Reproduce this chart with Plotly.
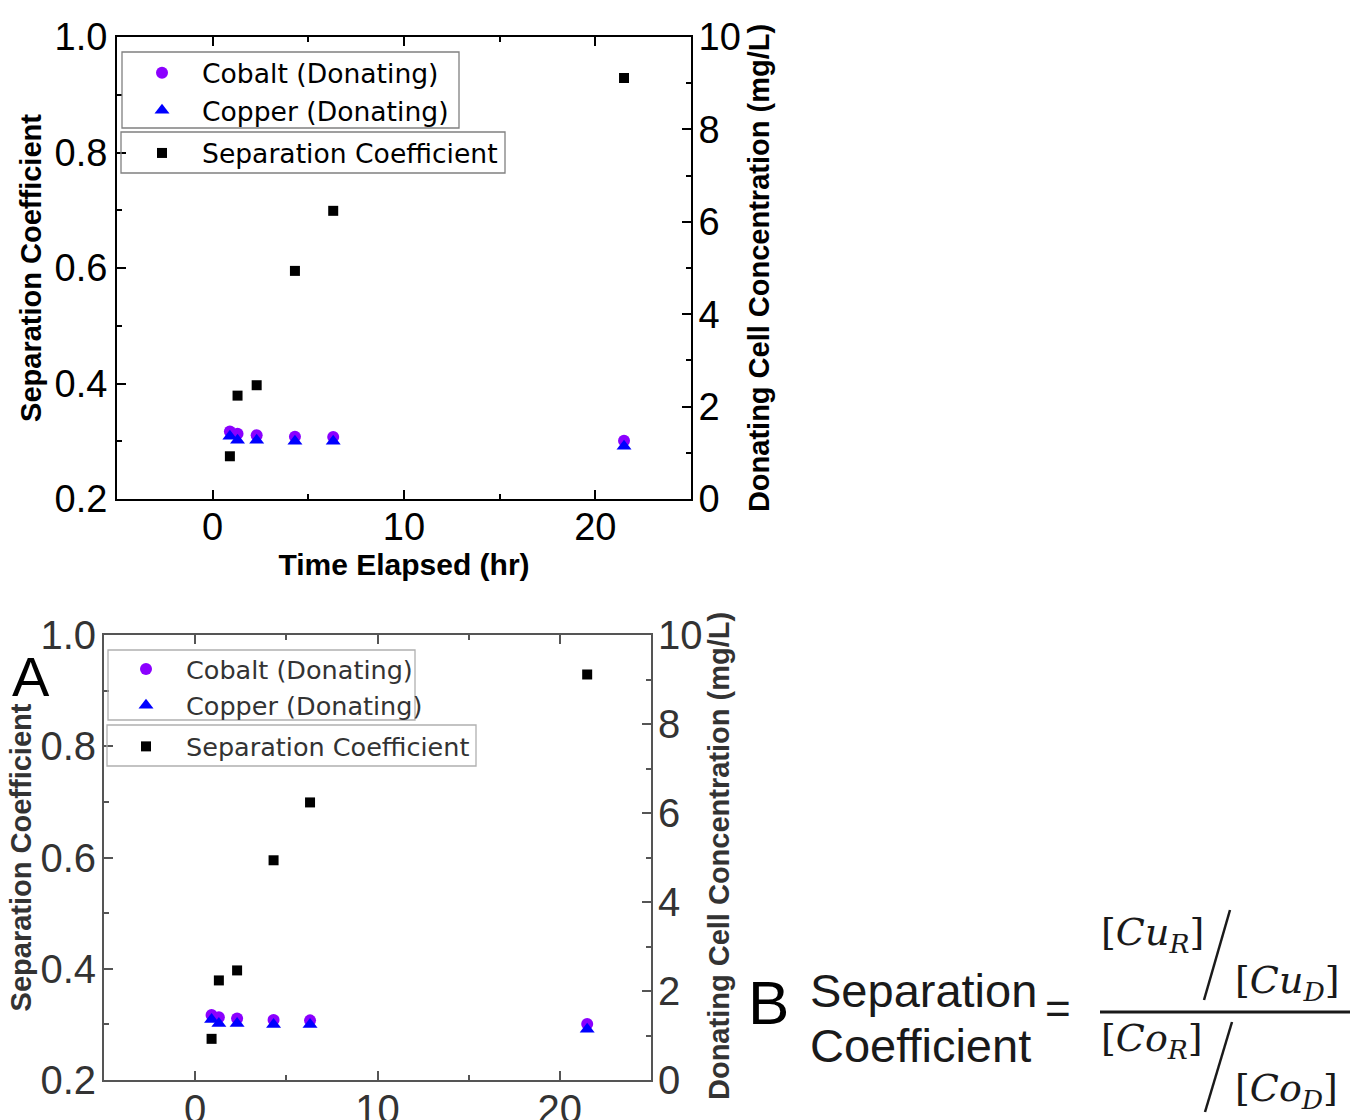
import plotly.graph_objects as go

# ---------------- data ----------------
time_hr = [0.9, 1.3, 2.3, 4.3, 6.3, 21.5]
sep_coef = [0.274, 0.379, 0.397, 0.595, 0.699, 0.929]
cobalt_mgL = [1.46, 1.41, 1.38, 1.35, 1.34, 1.26]
copper_mgL = [1.36, 1.27, 1.27, 1.25, 1.25, 1.14]

x_ticks = [0, 10, 20]
left_ticks = [0.2, 0.4, 0.6, 0.8, 1.0]
right_ticks = [0, 2, 4, 6, 8, 10]

W, H = 1350, 1120
FONT = "Liberation Sans, Arial, sans-serif"
LEGFONT = "DejaVu Sans, Liberation Sans, sans-serif"
PURPLE = "#8B00FF"
BLUE = "#0000FF"
RIGHT_TITLE = "Donating Cell Concentration (mg/L)"

def px_x(p):
    return p / W

def px_y(p):
    return 1 - p / H

fig = go.Figure()

panels = [
    dict(x="x", yl="y", yr="y2", lg="legend"),
    dict(x="x2", yl="y3", yr="y4", lg="legend2"),
]

for p in panels:
    fig.add_trace(go.Scatter(
        x=time_hr, y=cobalt_mgL, mode="markers", name="Cobalt (Donating)",
        marker=dict(symbol="circle", size=12, color=PURPLE), legendgroup="metals",
        xaxis=p["x"], yaxis=p["yr"], legend=p["lg"]))
    fig.add_trace(go.Scatter(
        x=time_hr, y=copper_mgL, mode="markers", name="Copper (Donating)",
        marker=dict(symbol="triangle-up", size=13, color=BLUE), legendgroup="metals",
        xaxis=p["x"], yaxis=p["yr"], legend=p["lg"]))
    fig.add_trace(go.Scatter(
        x=time_hr, y=sep_coef, mode="markers", name="Separation Coefficient",
        marker=dict(symbol="square", size=10, color="black"), legendgroup="sep",
        xaxis=p["x"], yaxis=p["yl"], legend=p["lg"]))


def xaxis_cfg(dom, anchor, color, tcolor, title, fsize):
    cfg = dict(
        domain=dom, anchor=anchor, range=[-5, 25], automargin=False,
        tickmode="array", tickvals=x_ticks,
        ticks="inside", ticklen=9, tickwidth=2, tickcolor=color,
        minor=dict(ticks="inside", dtick=5, tick0=0, ticklen=5, tickwidth=2, tickcolor=color),
        showline=True, linewidth=2, linecolor=color, mirror="ticks",
        showgrid=False, zeroline=False,
        tickfont=dict(family=FONT, size=fsize, color=tcolor),
        ticklabelstandoff=-7,
    )
    if title:
        cfg["title"] = dict(text=title, font=dict(family=FONT, size=30, color=tcolor, weight="bold"),
                            standoff=2)
    return cfg


def yleft_cfg(dom, anchor, color, tcolor, fsize, lstand, tstand):
    return dict(
        domain=dom, anchor=anchor, range=[0.2, 1.0], automargin=False,
        tickmode="array", tickvals=left_ticks, tickformat=".1f",
        ticks="inside", ticklen=9, tickwidth=2, tickcolor=color,
        minor=dict(ticks="inside", dtick=0.1, tick0=0.2, ticklen=5, tickwidth=2, tickcolor=color),
        showline=True, linewidth=2, linecolor=color,
        showgrid=False, zeroline=False,
        tickfont=dict(family=FONT, size=fsize, color=tcolor),
        ticklabelstandoff=lstand,
        title=dict(text="Separation Coefficient",
                   font=dict(family=FONT, size=29, color=tcolor, weight="bold"), standoff=tstand),
    )


def yright_cfg(overlay, anchor, color, tcolor, fsize, lstand, title):
    cfg = dict(
        overlaying=overlay, anchor=anchor, side="right", range=[0, 10], automargin=False,
        tickmode="array", tickvals=right_ticks,
        ticks="inside", ticklen=9, tickwidth=2, tickcolor=color,
        minor=dict(ticks="inside", dtick=1, tick0=0, ticklen=5, tickwidth=2, tickcolor=color),
        showline=True, linewidth=2, linecolor=color,
        showgrid=False, zeroline=False,
        tickfont=dict(family=FONT, size=fsize, color=tcolor),
        ticklabelstandoff=lstand,
    )
    if title:
        cfg["title"] = dict(text=title,
                            font=dict(family=FONT, size=29, color=tcolor, weight="bold"), standoff=9)
    return cfg


TOPC = "black"
BOTC = "#333333"
AXC_BOT = "#555555"

def legend_cfg(x, y, color, size, gap):
    return dict(
        x=px_x(x), y=px_y(y), xanchor="left", yanchor="top",
        bgcolor="rgba(255,255,255,0)", borderwidth=0,
        font=dict(family=LEGFONT, size=size, color=color),
        itemwidth=70, traceorder="grouped", tracegroupgap=gap,
    )

fig.update_layout(
    width=W, height=H,
    margin=dict(l=0, r=0, t=0, b=0, autoexpand=False),
    paper_bgcolor="white", plot_bgcolor="white",
    xaxis=xaxis_cfg([px_x(117), px_x(691)], "y", TOPC, TOPC, "Time Elapsed (hr)", 38),
    yaxis=yleft_cfg([px_y(499), px_y(37)], "x", TOPC, TOPC, 38, 0, 4),
    yaxis2=yright_cfg("y", "x", TOPC, TOPC, 38, -2, RIGHT_TITLE),
    xaxis2=xaxis_cfg([px_x(104), px_x(651)], "y3", AXC_BOT, BOTC, None, 40),
    yaxis3=yleft_cfg([px_y(1080), px_y(635)], "x2", AXC_BOT, BOTC, 40, -2, 0),
    yaxis4=yright_cfg("y3", "x2", AXC_BOT, BOTC, 40, -3, None),
    legend=legend_cfg(122, 49, TOPC, 26.6, 5),
    legend2=legend_cfg(106, 646, BOTC, 25.5, 5),
)

# legend frames (two boxes per legend, as in the original figure)
frames = [
    (122, 52, 459, 128, "#808080"),
    (121, 132, 505, 173, "#808080"),
    (108, 650, 415, 720, "#b0b0b0"),
    (107, 725, 476, 766, "#b0b0b0"),
]
for x0, y0, x1, y1, c in frames:
    fig.add_shape(type="rect", xref="paper", yref="paper",
                  x0=px_x(x0), x1=px_x(x1), y0=px_y(y0), y1=px_y(y1),
                  line=dict(color=c, width=1.3), fillcolor="rgba(0,0,0,0)", layer="above")

# ---------------- panel labels, bottom right title, formula ----------------
def ann(text, x, y, size, color="black", family=FONT, xanchor="center", yanchor="middle",
        angle=0, weight="normal"):
    fig.add_annotation(text=text, x=px_x(x), y=px_y(y), xref="paper", yref="paper",
                       showarrow=False, xanchor=xanchor, yanchor=yanchor, textangle=angle,
                       font=dict(family=family, size=size, color=color, weight=weight))

ann(RIGHT_TITLE, 719, 856, 29, BOTC, angle=-90, weight="bold")

ann("A", 31, 676, 56)
ann("B", 768, 1002, 62)
ann("Separation", 808, 990, 47, "#1a1a1a", xanchor="left")
ann("Coefficient", 808, 1045, 47, "#1a1a1a", xanchor="left")
ann("=", 1058, 1008, 44, "#1a1a1a")

SERIF = "DejaVu Serif, Liberation Serif, serif"
ann("[<i>Cu</i><sub><i>R</i></sub>]", 1099, 934, 38, "#1a1a1a", SERIF, xanchor="left")
ann("[<i>Cu</i><sub><i>D</i></sub>]", 1233, 982, 38, "#1a1a1a", SERIF, xanchor="left")
ann("[<i>Co</i><sub><i>R</i></sub>]", 1099, 1040, 38, "#1a1a1a", SERIF, xanchor="left")
ann("[<i>Co</i><sub><i>D</i></sub>]", 1233, 1090, 38, "#1a1a1a", SERIF, xanchor="left")

# fraction bar and slashes
fig.add_shape(type="line", xref="paper", yref="paper",
              x0=px_x(1100), x1=px_x(1350), y0=px_y(1012), y1=px_y(1012),
              line=dict(color="#1a1a1a", width=3))
fig.add_shape(type="line", xref="paper", yref="paper",
              x0=px_x(1230), x1=px_x(1204), y0=px_y(910), y1=px_y(1000),
              line=dict(color="#1a1a1a", width=2.5))
fig.add_shape(type="line", xref="paper", yref="paper",
              x0=px_x(1232), x1=px_x(1205), y0=px_y(1022), y1=px_y(1112),
              line=dict(color="#1a1a1a", width=2.5))

fig.write_html("out.html")
